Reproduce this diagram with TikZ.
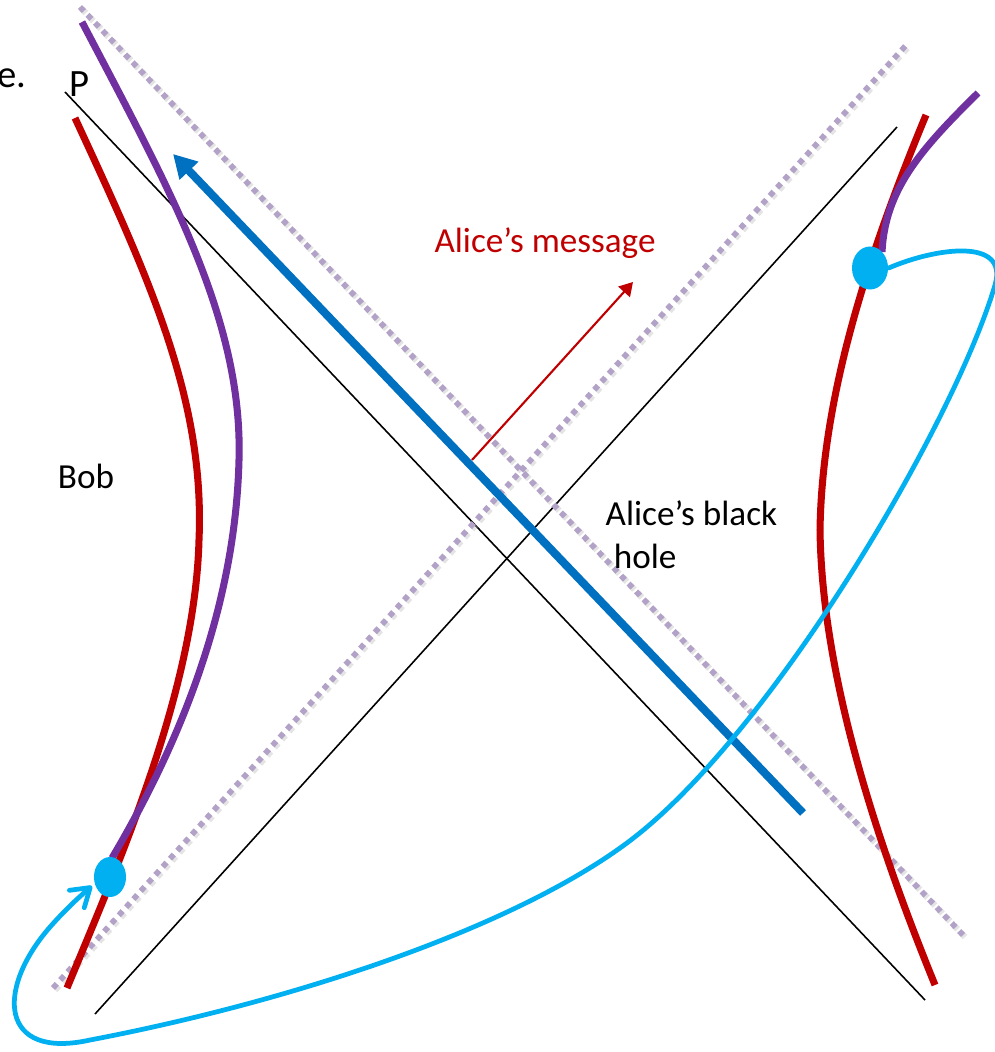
\documentclass[tikz,border=0pt]{standalone}
\usepackage{fontspec}
\setmainfont{Carlito}
\usetikzlibrary{arrows.meta,shapes.geometric}

\definecolor{wlred}{HTML}{C00000}
\definecolor{wlpurple}{HTML}{7030A0}
\definecolor{sigblue}{HTML}{0070C0}
\definecolor{evcyan}{HTML}{00B0F0}
\definecolor{lavender}{HTML}{B3A2C7}

\begin{document}
\begin{tikzpicture}[x=0.01cm,y=-0.01cm,
  horizon/.style={line width=0.45pt},
  nullray/.style={draw=lavender,line width=1.6pt,dash pattern=on 1.6pt off 1.5pt},
  nullshade/.style={draw=black!30,line width=1.8pt,dash pattern=on 1.6pt off 1.5pt,opacity=0.35},
  worldline/.style={line width=2pt},
  event/.style={ellipse,fill=evcyan,inner sep=0pt},
  lbl/.style={font=\fontsize{10}{12}\selectfont,inner sep=0pt}]
  \useasboundingbox (0,0) rectangle (995,1052);
  % horizons
  \draw[horizon] (65,92) -- (925,1000);
  \draw[horizon] (95,1014) -- (897,127);
  % shifted light rays (with soft shadow)
  \draw[nullshade,shift={(2,2)}] (80,7) -- (963,935);
  \draw[nullshade,shift={(2,2)}] (53,988) -- (908,43);
  \draw[nullray] (80,7) -- (963,935);
  \draw[nullray] (53,988) -- (908,43);
  % worldlines of Bob and Alice
  \draw[worldline,wlred] (75,118) .. controls (150,280) and (205,400) .. (199,540)
    .. controls (195,690) and (120,860) .. (67,988);
  \draw[worldline,wlred] (926,115) .. controls (865,262) and (822,400) .. (820,530)
    .. controls (822,680) and (880,850) .. (935,985);
  \draw[worldline,wlpurple] (82,22) .. controls (170,190) and (243,320) .. (239,460)
    .. controls (235,620) and (170,760) .. (112,858);
  \draw[worldline,wlpurple] (978,93) .. controls (920,150) and (885,190) .. (882,252);
  % events
  \node[event,minimum width=0.32cm,minimum height=0.40cm] (evL) at (110,877) {};
  \node[event,minimum width=0.36cm,minimum height=0.43cm] (evR) at (870,268) {};
  % signals
  \coordinate (sigTail) at (803,813);
  \coordinate (sigTip) at (173,154);
  \draw[sigblue,line width=2.3pt,-{Triangle[length=6.6pt,width=7pt]}] (sigTail) -- (sigTip);
  \coordinate (msgTail) at (472,460);
  \coordinate (msgTip) at (633,282);
  \draw[wlred,line width=0.6pt,-{Triangle[length=3.8pt,width=4.4pt]}] (msgTail) -- (msgTip);
  \draw[evcyan,line width=1.35pt,line cap=round,-{Straight Barb[length=5pt,width=6.5pt,round]}]
    (evR.east) .. controls (935,248) and (1009,237) .. (995,285)
    .. controls (955,420) and (785,710) .. (647,827)
    .. controls (537,921) and (300,1000) .. (90,1040)
    .. controls (0,1060) and (-5,990) .. (50,927)
    .. controls (65,910) and (78,898) .. (92,886);
  % labels
  \node[lbl,font=\fontsize{11}{13}\selectfont,anchor=base west] (cut) at (-3,88) {e.};
  \node[lbl,font=\fontsize{11}{13}\selectfont,anchor=base west] (pt) at (69,97) {P};
  \node[lbl,anchor=base] (bob) at (86,488) {Bob};
  \node[lbl,text=wlred,anchor=base] (msg) at (545,253) {Alice’s message};
  \node[lbl,anchor=base west,align=left] (bh) at (605,568) {Alice’s black\\\hspace*{2.3pt}hole};
\end{tikzpicture}
\end{document}
